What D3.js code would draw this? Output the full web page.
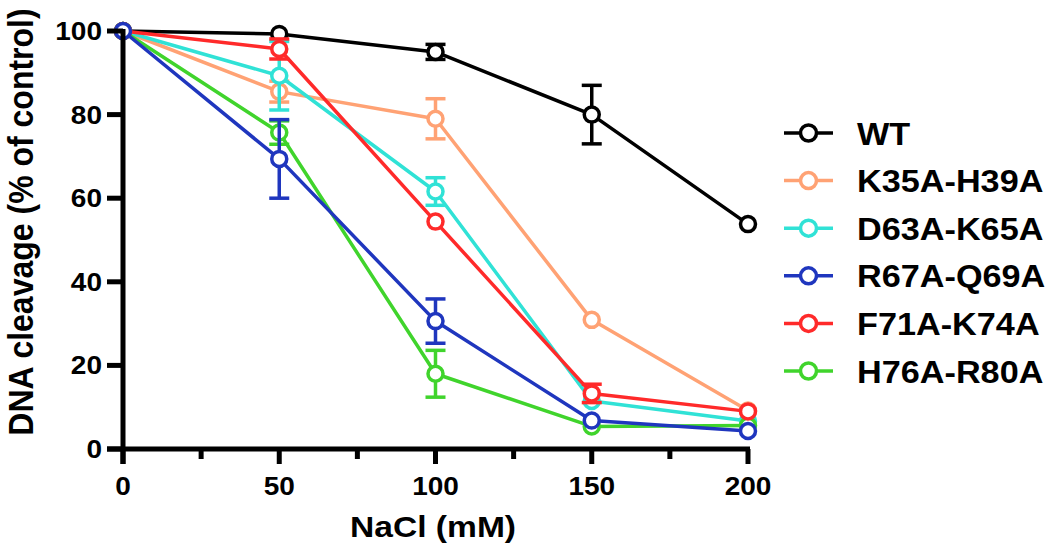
<!DOCTYPE html>
<html>
<head>
<meta charset="utf-8">
<script src="https://cdn.jsdelivr.net/npm/d3@7"></script>
<style>
  html, body { margin: 0; padding: 0; background: #fff; }
  svg { display: block; }
  text { font-family: "Liberation Sans", Arial, Helvetica, sans-serif; font-weight: bold; fill: #000; }
</style>
</head>
<body>
<svg id="chart" width="1050" height="549"></svg>
<script>
// ---------------- data ----------------
const nacl = [0, 50, 100, 150, 200];
const seriesNames = ["WT", "K35A-H39A", "D63A-K65A", "R67A-Q69A", "F71A-K74A", "H76A-R80A"];
const seriesColors = ["#000000", "#FFA274", "#30E2D6", "#1F36BE", "#FF2A2A", "#40D42C"];
const wt      = [100, 99.3, 95.0, 80.0, 53.8];
const k35a    = [100, 85.5, 79.0, 30.9, 9.2];
const d63a    = [100, 89.3, 61.6, 11.5, 6.7];
const r67a    = [100, 69.4, 30.6, 6.8, 4.3];
const f71a    = [100, 95.7, 54.4, 13.3, 9.0];
const h76a    = [100, 75.7, 18.0, 5.4, 5.6];
const wtErr   = [0, 0, 1.8, 7.0, 0];
const k35aErr = [0, 2.5, 4.8, 0, 0];
const d63aErr = [0, 8.2, 3.3, 0, 0];
const r67aErr = [0, 9.4, 5.3, 0, 0];
const f71aErr = [0, 2.4, 0, 2.2, 0];
const h76aErr = [0, 2.8, 5.6, 0, 0];
const xTicks = [0, 50, 100, 150, 200];
const xMinorTicks = [25, 75, 125, 175];
const yTicks = [0, 20, 40, 60, 80, 100];
const xTitle = "NaCl (mM)";
const yTitle = "DNA cleavage (% of control)";

const seriesValues = [wt, k35a, d63a, r67a, f71a, h76a];
const seriesErrors = [wtErr, k35aErr, d63aErr, r67aErr, f71aErr, h76aErr];
// drawing order (last on top)
const drawOrder = [0, 1, 2, 5, 4, 3];

// ---------------- layout ----------------
const svg = d3.select("#chart");
const x = d3.scaleLinear().domain([0, 200]).range([123, 748]);
const y = d3.scaleLinear().domain([0, 100]).range([449, 31]);
const SX = 1.12; // horizontal stretch of text in the reference

// ---------------- series ----------------
const line = d3.line().x(d => x(d.x)).y(d => y(d.y));
const plot = svg.append("g");
drawOrder.forEach(si => {
  const pts = nacl.map((v, i) => ({ x: v, y: seriesValues[si][i], e: seriesErrors[si][i] }));
  const col = seriesColors[si];
  const g = plot.append("g");
  g.append("path").datum(pts).attr("d", line)
    .attr("fill", "none").attr("stroke", col).attr("stroke-width", 3.5)
    .attr("stroke-linejoin", "round");
  const eb = g.selectAll(".eb").data(pts.filter(p => p.e > 0)).enter().append("g");
  eb.append("line")
    .attr("x1", d => x(d.x)).attr("x2", d => x(d.x))
    .attr("y1", d => y(d.y + d.e)).attr("y2", d => y(d.y - d.e))
    .attr("stroke", col).attr("stroke-width", 3.5);
  [1, -1].forEach(s => {
    eb.append("line")
      .attr("x1", d => x(d.x) - 10).attr("x2", d => x(d.x) + 10)
      .attr("y1", d => y(d.y + s * d.e)).attr("y2", d => y(d.y + s * d.e))
      .attr("stroke", col).attr("stroke-width", 3.5);
  });
  g.selectAll("circle").data(pts).enter().append("circle")
    .attr("cx", d => x(d.x)).attr("cy", d => y(d.y)).attr("r", 7.5)
    .attr("fill", "#fff").attr("stroke", col).attr("stroke-width", 3.5);
});

// ---------------- axes ----------------
const axes = svg.append("g");
// y axis line (extends down to meet the x=0 tick)
axes.append("line").attr("x1", x(0)).attr("x2", x(0))
  .attr("y1", y(100) - 2).attr("y2", y(0) + 15)
  .attr("stroke", "#000").attr("stroke-width", 5);
// x axis line
axes.append("line").attr("x1", x(0) - 16).attr("x2", x(200) + 2)
  .attr("y1", y(0)).attr("y2", y(0))
  .attr("stroke", "#000").attr("stroke-width", 5);
// y ticks
axes.selectAll(".yt").data(yTicks).enter().append("line")
  .attr("x1", x(0) - 16).attr("x2", x(0)).attr("y1", d => y(d)).attr("y2", d => y(d))
  .attr("stroke", "#000").attr("stroke-width", 5);
// x major ticks
axes.selectAll(".xt").data(xTicks).enter().append("line")
  .attr("x1", d => x(d)).attr("x2", d => x(d)).attr("y1", y(0)).attr("y2", y(0) + 15)
  .attr("stroke", "#000").attr("stroke-width", 5);
// x minor ticks
axes.selectAll(".xm").data(xMinorTicks).enter().append("line")
  .attr("x1", d => x(d)).attr("x2", d => x(d)).attr("y1", y(0)).attr("y2", y(0) + 10)
  .attr("stroke", "#000").attr("stroke-width", 5);

// tick labels
axes.selectAll(".yl").data(yTicks).enter().append("text")
  .attr("transform", d => `translate(102,${y(d) + 9}) scale(${SX},1)`)
  .attr("text-anchor", "end").attr("font-size", 25)
  .text(d => d);
axes.selectAll(".xl").data(xTicks).enter().append("text")
  .attr("transform", d => `translate(${x(d)},495) scale(${SX},1)`)
  .attr("text-anchor", "middle").attr("font-size", 25)
  .text(d => d);

// axis titles
svg.append("text")
  .attr("transform", `translate(433,537) scale(${SX},1)`)
  .attr("text-anchor", "middle").attr("font-size", 30)
  .text(xTitle);
svg.append("text")
  .attr("transform", `translate(33,222) scale(${SX},1) rotate(-90)`)
  .attr("text-anchor", "middle").attr("font-size", 32)
  .text(yTitle);

// ---------------- legend ----------------
const legendY = d3.scalePoint().domain(seriesNames).range([133, 371]);
const leg = svg.append("g");
seriesNames.forEach((name, i) => {
  const cy = legendY(name);
  const col = seriesColors[i];
  leg.append("line").attr("x1", 784).attr("x2", 833).attr("y1", cy).attr("y2", cy)
    .attr("stroke", col).attr("stroke-width", 3.5);
  leg.append("circle").attr("cx", 808.5).attr("cy", cy).attr("r", 8)
    .attr("fill", "#fff").attr("stroke", col).attr("stroke-width", 3.5);
  leg.append("text")
    .attr("transform", `translate(857,${cy + 11.5}) scale(1.07,1)`)
    .attr("font-size", 32)
    .text(name);
});
</script>
</body>
</html>
